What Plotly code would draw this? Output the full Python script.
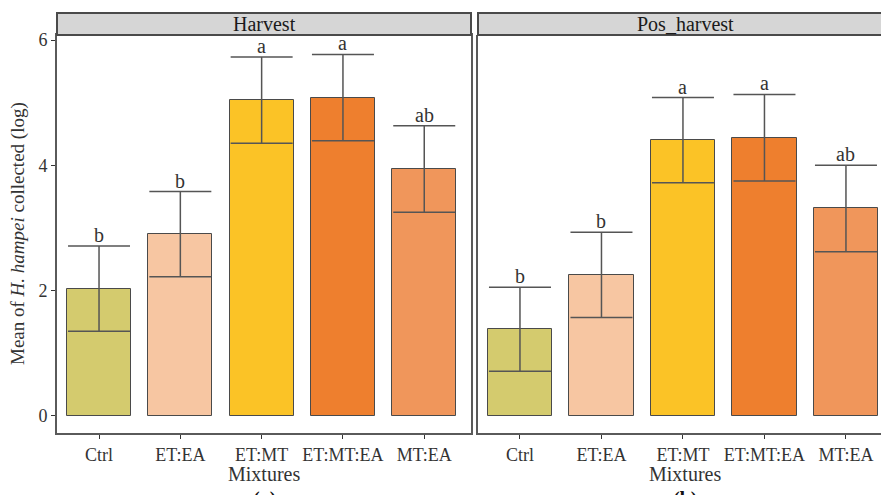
import plotly.graph_objects as go

categories = ["Ctrl", "ET:EA", "ET:MT", "ET:MT:EA", "MT:EA"]
facets = ["Harvest", "Pos_harvest"]
harvest_mean = [2.03, 2.90, 5.04, 5.08, 3.94]
harvest_se = [0.68, 0.68, 0.69, 0.69, 0.69]
harvest_letters = ["b", "b", "a", "a", "ab"]
pos_mean = [1.38, 2.25, 4.40, 4.44, 3.31]
pos_se = [0.67, 0.68, 0.68, 0.69, 0.69]
pos_letters = ["b", "b", "a", "a", "ab"]
colors = ["#D4CB6E", "#F7C6A2", "#FBC326", "#EE7F2E", "#F0965B"]
panel_labels = ["(a)", "(b)"]

FONT = "Liberation Serif"
W, H = 881, 495
ml, mr, mt, mb = 57, 0, 35, 62
pw = W - ml - mr
ph = H - mt - mb

def px_x(p):
    return (p - ml) / pw

def px_y(p):
    return (H - mb - p) / ph

fig = go.Figure()
series = [(harvest_mean, harvest_se, harvest_letters), (pos_mean, pos_se, pos_letters)]
for i, (m, se, let) in enumerate(series):
    xa = "x" if i == 0 else "x2"
    ya = "y" if i == 0 else "y2"
    fig.add_trace(go.Bar(
        x=categories, y=m, width=0.79,
        marker=dict(color=colors, line=dict(color="#4a4a4a", width=1)),
        error_y=dict(type="data", array=se, visible=True, color="#555555",
                     thickness=1.5, width=31),
        xaxis=xa, yaxis=ya, showlegend=False, hoverinfo="skip"))
    for c, mv, sv, lt in zip(categories, m, se, let):
        fig.add_annotation(x=c, y=mv + sv, xref=xa, yref=ya, text=lt,
                           showarrow=False, yanchor="bottom", yshift=-2,
                           font=dict(family=FONT, size=20, color="#333333"))

d1 = [0, px_x(471)]
d2 = [px_x(478), 1]
yr = [-0.276, 6.08]
axis_common = dict(showgrid=False, zeroline=False, linecolor="#5a5a5a", linewidth=2,
                   ticklen=4, tickcolor="#333333", tickwidth=1, automargin=False,
                   tickfont=dict(family=FONT, size=18, color="#333333"))
fig.update_layout(
    width=W, height=H,
    margin=dict(l=ml, r=mr, t=mt, b=mb, autoexpand=False),
    paper_bgcolor="white", plot_bgcolor="white",
    bargap=0,
    xaxis=dict(domain=d1, range=[-0.517, 4.575], type="category", ticks="outside",
               showline=True, mirror=True, anchor="y", **axis_common),
    xaxis2=dict(domain=d2, range=[-0.515, 4.43], type="category", ticks="outside",
                showline=True, mirror=False, anchor="y2", **axis_common),
    yaxis=dict(range=yr, tickvals=[0, 2, 4, 6], showline=True, mirror=True,
               ticks="outside", anchor="x", **axis_common),
    yaxis2=dict(range=yr, tickvals=[0, 2, 4, 6], showticklabels=False, ticks="",
                showline=True, mirror=False, anchor="x2", **axis_common),
)

# facet strips
strip_top = 1 + (35 - 13) / ph
for i, (xd, name) in enumerate(zip([d1, d2], facets)):
    x1 = xd[1] if i == 0 else 1.05
    fig.add_shape(type="rect", xref="paper", yref="paper", x0=xd[0], x1=x1,
                  y0=1, y1=strip_top, fillcolor="#D6D6D6",
                  line=dict(color="#4a4a4a", width=2), layer="above")
    cx = (xd[0] + xd[1]) / 2 if i == 0 else px_x(685)
    fig.add_annotation(x=cx, y=(1 + strip_top) / 2, xref="paper", yref="paper",
                       text=name, showarrow=False, xanchor="center", yanchor="middle",
                       font=dict(family=FONT, size=20, color="#1a1a1a"))
    fig.add_annotation(x=cx, y=px_y(474), xref="paper", yref="paper",
                       text="Mixtures", showarrow=False, xanchor="center", yanchor="middle",
                       borderpad=0,
                       font=dict(family=FONT, size=20, color="#333333"))
    fig.add_annotation(x=cx, y=px_y(487), xref="paper", yref="paper",
                       text="<b>" + panel_labels[i] + "</b>", showarrow=False,
                       xanchor="center", yanchor="top", borderpad=0,
                       font=dict(family=FONT, size=20, color="#111111"))

fig.add_annotation(x=px_x(18), y=px_y(234), xref="paper", yref="paper",
                   text="Mean of <i>H. hampei</i> collected (log)", textangle=-90,
                   showarrow=False, xanchor="center", yanchor="middle",
                   font=dict(family=FONT, size=19, color="#333333"))

fig.write_html("out.html", config={"displayModeBar": False},
               post_script="document.body.style.margin='0';")
